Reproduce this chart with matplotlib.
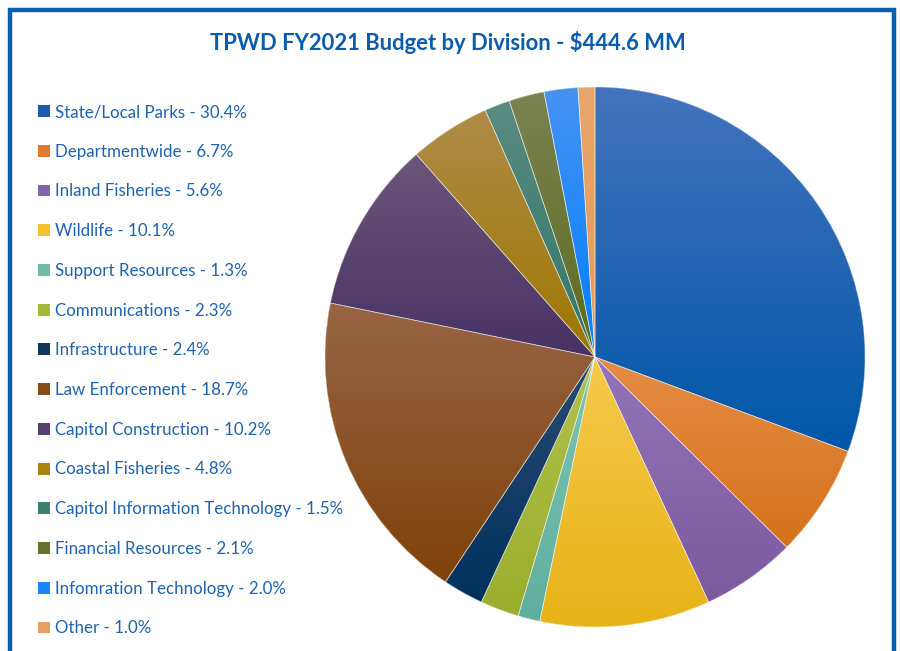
import matplotlib
matplotlib.use("Agg")
import matplotlib.pyplot as plt
import numpy as np
from matplotlib.patches import Patch, Rectangle, PathPatch
from matplotlib.colors import to_rgb

categories = ["State/Local Parks", "Departmentwide", "Inland Fisheries", "Wildlife",
              "Support Resources", "Communications", "Infrastructure", "Law Enforcement",
              "Capitol Construction", "Coastal Fisheries", "Capitol Information Technology",
              "Financial Resources", "Infomration Technology", "Other"]
values = [30.4, 6.7, 5.6, 10.1, 1.3, 2.3, 2.4, 18.7, 10.2, 4.8, 1.5, 2.1, 2.0, 1.0]
title = "TPWD FY2021 Budget by Division - $444.6 MM"

top_colors = ["#4473BD", "#E58D45", "#9474B9", "#F5C94A", "#7DC5B4", "#B0C24A", "#2B4B72",
              "#976444", "#6A5679", "#AE8C48", "#5B8B80", "#7B8252", "#4692F2", "#E9A66C"]
bot_colors = ["#0057A8", "#D5711A", "#7B5A9F", "#E8B318", "#5FAF9E", "#9CAE2E", "#00315E",
              "#80420A", "#483265", "#9E7700", "#31776A", "#5D6C1E", "#0080FF", "#E89856"]
leg_colors = ["#1E5AAA", "#E07B2C", "#8063A8", "#F2C030", "#6EBBA8", "#A5B838", "#12375F",
              "#874C1C", "#55406E", "#A6840F", "#3F7F70", "#66722C", "#1A84F8", "#E89E60"]

TEXT_BLUE = "#1F62AE"
TITLE_BLUE = "#0B5CAD"
FONT = "Lato"

fig = plt.figure(figsize=(9, 6.51), dpi=100)

# frame
fig.patches.append(Rectangle((10/900, -0.05), 884/900, 1.05 - 10/651, transform=fig.transFigure,
                             fill=False, edgecolor="#0B5FAF", linewidth=3.2, clip_on=False))

fig.text(448/900, 1 - 42/651, title, ha="center", va="center", color=TITLE_BLUE,
         fontsize=15.8, fontweight="bold", family=FONT)

ax = fig.add_axes([325/900, 24/651, 540/900, 540/651])
wedges, _ = ax.pie(values, startangle=90, counterclock=False, colors=bot_colors,
                   wedgeprops=dict(linewidth=0))
ax.set_xlim(-1, 1)
ax.set_ylim(-1, 1)
ax.set_aspect("equal")

n = 64
for w, c0, c1 in zip(wedges, top_colors, bot_colors):
    ext = w.get_path().get_extents()
    t = np.linspace(0, 1, n)[:, None]
    a = np.array(to_rgb(c0)); b = np.array(to_rgb(c1))
    img = (a[None, :] * (1 - t) + b[None, :] * t)[:, None, :]
    im = ax.imshow(img, extent=(ext.x0, ext.x1, ext.y0, ext.y1), origin="upper",
                   aspect="auto", zorder=2, interpolation="bilinear")
    im.set_clip_path(w)
    ax.add_patch(PathPatch(w.get_path(), facecolor="none", edgecolor="white",
                           linewidth=0.5, alpha=0.6, zorder=3))
ax.set_xlim(-1, 1)
ax.set_ylim(-1, 1)
ax.axis("off")

handles = [Patch(facecolor=c, edgecolor="none") for c in leg_colors]
labels = [f"{c} - {v:.1f}%" for c, v in zip(categories, values)]
leg = fig.legend(handles, labels, loc="upper left", bbox_to_anchor=(38/900, 1 - 104/651),
                 frameon=False, handlelength=0.7, handleheight=0.7,
                 handletextpad=0.3, labelspacing=1.40, borderaxespad=0, borderpad=0,
                 prop=dict(family=FONT, size=12.2))
for txt in leg.get_texts():
    txt.set_color(TEXT_BLUE)

fig.savefig("out.png", dpi=100)
